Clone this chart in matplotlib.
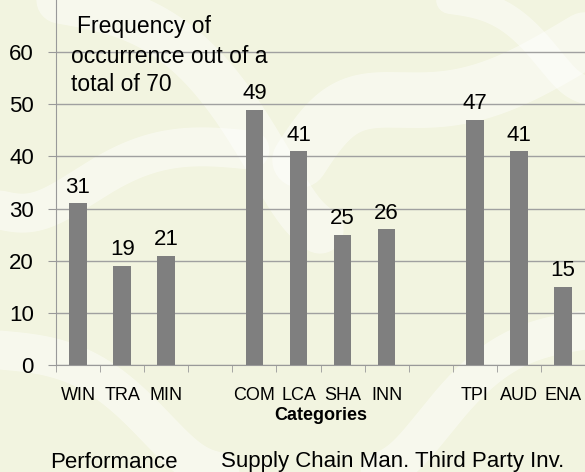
import numpy as np
import matplotlib.pyplot as plt

plt.rcParams['font.family'] = ['Liberation Sans', 'DejaVu Sans']

# data
categories = ['WIN', 'TRA', 'MIN', '', 'COM', 'LCA', 'SHA', 'INN', '', 'TPI', 'AUD', 'ENA']
values = [31, 19, 21, None, 49, 41, 25, 26, None, 47, 41, 15]
groups = ['Performance', 'Supply Chain Man.', 'Third Party Inv.']
group_x = [114, 315, 490]  # pixel centres of the group captions
note_lines = ['Frequency of', 'occurrence out of a', 'total of 70']
y_ticks = [0, 10, 20, 30, 40, 50, 60]

W, H = 585, 472
fig = plt.figure(figsize=(W / 100, H / 100), dpi=100)
fig.patch.set_facecolor('#f2f4e0')

# soft decorative background swirls
bg = fig.add_axes([0, 0, 1, 1], zorder=-1)
bg.set_xlim(0, W)
bg.set_ylim(H, 0)
bg.axis('off')
t = np.linspace(0, 1, 200)
swirls = [
    # (x0, y0, x1, y1, bend, width)
    (60, 0, 320, 230, 50, 34),
    (0, 210, 250, 150, -30, 28),
    (585, 40, 300, 160, -40, 40),
    (450, 0, 585, 90, 20, 20),
    (0, 350, 220, 472, 30, 28),
    (380, 472, 585, 330, -30, 28),
]
for x0, y0, x1, y1, bend, w in swirls:
    xs = x0 + (x1 - x0) * t + bend * np.sin(np.pi * t)
    ys = y0 + (y1 - y0) * t - bend * 0.5 * np.sin(2 * np.pi * t)
    bg.plot(xs, ys, color='white', lw=w, alpha=0.45, solid_capstyle='round')

ax = fig.add_axes([56 / W, 107 / H, (W - 56) / W, (H - 107) / H])
ax.set_facecolor('none')

x = np.arange(len(categories))
heights = [v if v is not None else 0 for v in values]
ax.bar(x, heights, width=0.4, color='#7f7f7f', zorder=3)
for xi, v in zip(x, values):
    if v is None:
        continue
    ax.annotate(str(v), (xi, v), xytext=(0, 4), textcoords='offset points',
                ha='center', va='bottom', fontsize=16, color='black')

ax.set_ylim(0, 70)
ax.set_xlim(-0.5, 11.45)
ax.set_yticks(y_ticks)
ax.yaxis.grid(True, color='#a0a0a0', lw=1)
ax.set_axisbelow(True)
for side in ['top', 'right']:
    ax.spines[side].set_visible(False)
for side in ['left', 'bottom']:
    ax.spines[side].set_color('#999999')
ax.tick_params(axis='y', length=6, color='#999999', labelsize=16, pad=10)

# category names under the bars, tick marks at slot boundaries
ax.set_xticks(x)
ax.set_xticklabels(categories, fontsize=13)
ax.tick_params(axis='x', length=0, pad=16)
ax.set_xticks(np.arange(len(categories) + 1) - 0.5, minor=True)
ax.tick_params(axis='x', which='minor', length=5, color='#999999', direction='out')

ax.set_xlabel('Categories', fontsize=13, fontweight='bold', labelpad=2)

# the note in the top-left corner, one line at a time
for line, lx, ly in zip(note_lines, [77, 71, 71], [33, 63, 91]):
    fig.text(lx / W, 1 - ly / H, line, ha='left', va='baseline', fontsize=16.5)

for name, gx in zip(groups, group_x):
    fig.text(gx / W, 1 - 462 / H, name, ha='center', va='center', fontsize=16)

fig.savefig('out.png', dpi=100, facecolor=fig.get_facecolor())
